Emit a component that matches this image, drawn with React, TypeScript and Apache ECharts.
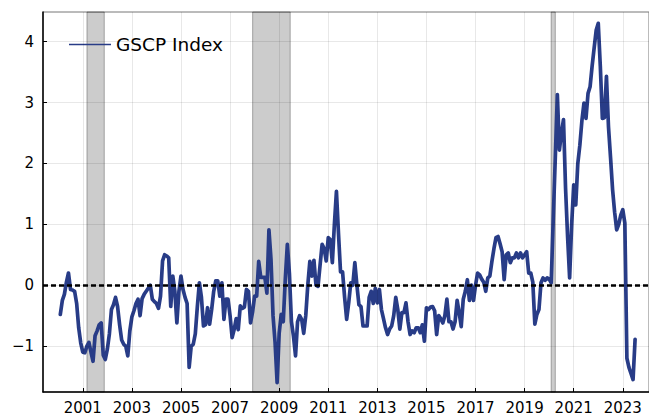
import React, { useEffect, useRef } from "react";
import * as echarts from "echarts";

// Monthly GSCP Index values (Jan..Dec per year)
const y2000 = [-0.48, -0.25, -0.15, 0.05, 0.2, -0.07, -0.08, -0.1, -0.3, -0.7, -0.95, -1.1];
const y2001 = [-1.11, -1.0, -0.94, -1.1, -1.25, -0.83, -0.75, -0.65, -0.62, -1.15, -1.22, -1.05];
const y2002 = [-0.8, -0.4, -0.32, -0.2, -0.35, -0.65, -0.9, -0.97, -1.0, -1.16, -0.75, -0.52];
const y2003 = [-0.42, -0.3, -0.23, -0.5, -0.22, -0.15, -0.1, -0.05, 0.0, -0.23, -0.27, -0.3];
const y2004 = [-0.38, -0.18, 0.4, 0.5, 0.48, 0.45, -0.35, 0.15, -0.1, -0.62, -0.1, 0.15];
const y2005 = [-0.07, -0.2, -0.3, -1.35, -1.0, -0.97, -0.8, -0.35, 0.04, -0.2, -0.67, -0.65];
const y2006 = [-0.37, -0.64, -0.4, -0.1, 0.07, 0.07, -0.18, 0.04, -0.56, -0.23, -0.23, -0.5];
const y2007 = [-0.86, -0.73, -0.55, -0.73, -0.34, -0.38, -0.36, -0.07, -0.1, -0.62, -0.44, -0.18];
const y2008 = [-0.18, 0.39, 0.13, 0.13, 0.13, -0.13, 0.91, 0.43, -0.5, -0.94, -1.6, -0.79];
const y2009 = [-0.48, -0.6, 0.1, 0.67, 0.2, -0.6, -0.84, -1.16, -0.6, -0.5, -0.56, -0.79];
const y2010 = [-0.5, 0.0, 0.39, 0.15, 0.41, 0.0, -0.02, 0.33, 0.67, 0.6, 0.4, 0.78];
const y2011 = [0.75, 0.37, 1.0, 1.54, 0.85, 0.22, 0.22, -0.2, -0.56, -0.29, 0.04, 0.0];
const y2012 = [0.37, 0.0, -0.32, -0.35, -0.67, -0.67, -0.67, -0.2, -0.1, -0.3, -0.05, -0.29];
const y2013 = [-0.07, -0.4, -0.55, -0.7, -0.81, -0.72, -0.67, -0.5, -0.2, -0.4, -0.72, -0.45];
const y2014 = [-0.45, -0.29, -0.6, -0.81, -0.75, -0.78, -0.7, -0.7, -0.78, -0.65, -0.92, -0.37];
const y2015 = [-0.4, -0.36, -0.35, -0.42, -0.81, -0.5, -0.55, -0.62, -0.5, -0.23, -0.6, -0.6];
const y2016 = [-0.72, -0.6, -0.25, -0.45, -0.68, -0.23, -0.1, 0.09, -0.25, 0.0, -0.25, 0.0];
const y2017 = [0.2, 0.17, 0.1, 0.05, -0.1, 0.12, 0.15, 0.39, 0.6, 0.78, 0.8, 0.68];
const y2018 = [0.55, 0.09, 0.5, 0.53, 0.37, 0.45, 0.45, 0.53, 0.45, 0.53, 0.45, 0.5];
const y2019 = [0.55, 0.2, 0.2, 0.05, -0.64, -0.48, -0.4, 0.04, 0.12, 0.08, 0.12, 0.1];
const y2020 = [0.04, 1.1, 2.1, 3.13, 2.22, 2.5, 2.72, 1.6, 0.8, 0.12, 1.0, 1.65];
const y2021 = [1.32, 2.0, 2.3, 2.7, 2.99, 2.74, 3.15, 3.26, 3.6, 3.9, 4.19, 4.3];
const y2022 = [3.6, 2.74, 2.75, 3.43, 2.6, 2.1, 1.57, 1.2, 0.91, 1.0, 1.15, 1.24];
const y2023 = [1.02, -1.2, -1.35, -1.45, -1.55, -0.89];

const years = [
  y2000, y2001, y2002, y2003, y2004, y2005, y2006, y2007, y2008, y2009, y2010, y2011,
  y2012, y2013, y2014, y2015, y2016, y2017, y2018, y2019, y2020, y2021, y2022, y2023,
];
const firstYear = 2000;

// Recession periods (decimal years)
const recessions = [
  [2001.17, 2001.875],
  [2007.92, 2009.45],
  [2020.08, 2020.25],
];

const xTicks = [2001, 2003, 2005, 2007, 2009, 2011, 2013, 2015, 2017, 2019, 2021, 2023];
const yTicks = [-1, 0, 1, 2, 3, 4];

const FONT = "DejaVu Sans";

export default function App() {
  const ref = useRef<HTMLDivElement>(null);

  useEffect(() => {
    if (!ref.current) return;
    const chart = echarts.init(ref.current, null, { renderer: "svg" });

    const data: number[][] = [];
    years.forEach((vals, yi) => {
      vals.forEach((v, mi) => {
        data.push([firstYear + yi + (mi + 1) / 12, v]);
      });
    });

    const gridLines = [
      ...xTicks.map((t) => ({ xAxis: t })),
      ...yTicks.map((t) => ({ yAxis: t })),
    ];

    chart.setOption({
      animation: false,
      backgroundColor: "#ffffff",
      grid: {
        left: 43,
        top: 12,
        right: -3,
        bottom: 22,
        show: true,
        borderColor: "#777777",
        borderWidth: 1,
        backgroundColor: "transparent",
      },
      legend: {
        data: ["GSCP Index"],
        left: 69,
        top: 35,
        padding: 0,
        icon: "rect",
        itemWidth: 42,
        itemHeight: 1.5,
        textStyle: { fontSize: 18.5, color: "#000", fontFamily: FONT },
      },
      xAxis: {
        type: "value",
        min: 1999.379,
        max: 2024.067,
        axisLine: { show: true, onZero: false, lineStyle: { color: "#000", width: 1.5 } },
        axisTick: { show: true, inside: true, length: 4, customValues: xTicks, lineStyle: { color: "#000" } },
        axisLabel: {
          customValues: xTicks,
          formatter: (v: number) => String(Math.round(v)),
          fontSize: 15,
          color: "#000",
          fontFamily: FONT,
          margin: 8,
        },
        splitLine: { show: false },
      },
      yAxis: {
        type: "value",
        min: -1.754,
        max: 4.487,
        axisLine: { show: true, onZero: false, lineStyle: { color: "#000", width: 1.5 } },
        axisTick: { show: true, inside: true, length: 4, customValues: yTicks, lineStyle: { color: "#000" } },
        axisLabel: {
          customValues: yTicks,
          formatter: (v: number) => (v < 0 ? "\u2212" + Math.abs(v) : String(v)),
          fontSize: 15,
          color: "#000",
          fontFamily: FONT,
          margin: 9,
        },
        splitLine: { show: false },
      },
      series: [
        {
          name: "recessions",
          type: "line",
          data: [],
          z: 1,
          silent: true,
          markLine: {
            silent: true,
            symbol: "none",
            label: { show: false },
            lineStyle: { color: "rgba(0,0,0,0.09)", width: 1, type: "solid" },
            data: gridLines,
          },
          markArea: {
            silent: true,
            itemStyle: {
              color: "rgba(0,0,0,0.2)",
              borderColor: "rgba(0,0,0,0.3)",
              borderWidth: 1,
            },
            data: recessions.map((r) => [{ xAxis: r[0] }, { xAxis: r[1] }]),
          },
        },
        {
          name: "GSCP Index",
          type: "line",
          data,
          z: 2,
          showSymbol: false,
          symbol: "none",
          color: "#283c87",
          lineStyle: { color: "#283c87", width: 3.7, join: "round", cap: "round" },
        },
        {
          name: "zero",
          type: "line",
          data: [],
          z: 3,
          silent: true,
          markLine: {
            silent: true,
            symbol: "none",
            label: { show: false },
            lineStyle: { color: "#000", width: 2.5, type: [5, 3] },
            data: [{ yAxis: 0 }],
          },
        },
      ],
    });

    return () => chart.dispose();
  }, []);

  return (
    <div
      ref={ref}
      style={{ position: "fixed", left: 0, top: 0, width: 649, height: 415 }}
    />
  );
}
